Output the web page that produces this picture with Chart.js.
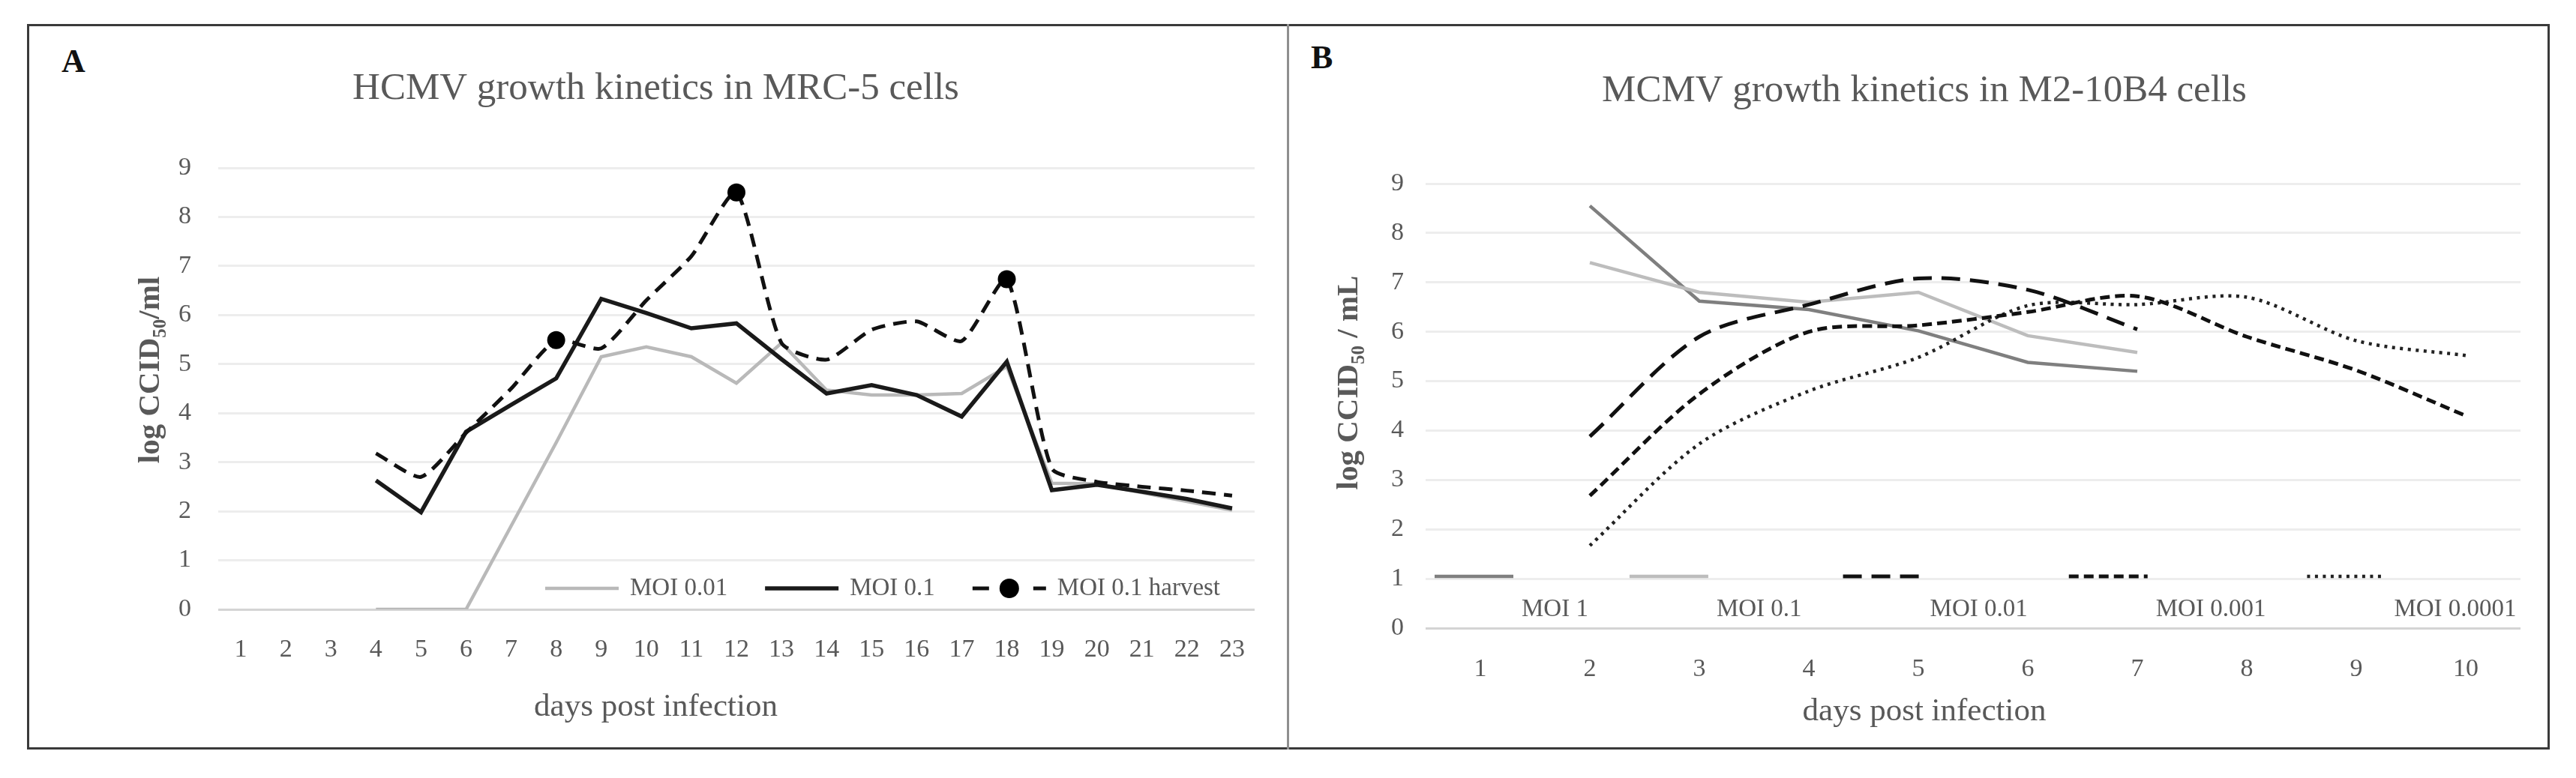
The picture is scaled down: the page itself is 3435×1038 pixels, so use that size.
<!DOCTYPE html>
<html>
<head>
<meta charset="utf-8">
<script src="https://cdn.jsdelivr.net/npm/chart.js@4.4.1/dist/chart.umd.min.js"></script>
<style>
  html, body { margin: 0; padding: 0; background: #fff; }
  body { width: 3435px; height: 1038px; position: relative; overflow: hidden; font-family: "Liberation Serif", serif; }
  .frame { position: absolute; left: 36px; top: 32px; width: 3358px; height: 962px; border: 3px solid #3a3a3a; }
  .divider { position: absolute; left: 1716px; top: 32px; width: 3px; height: 968px; background: #8f8f8f; }
  .panel-letter { position: absolute; font-size: 44px; line-height: 44px; font-weight: bold; color: #111; }
  canvas { position: absolute; top: 36px; }
  #chart-a { left: 76px; }
  #chart-b { left: 1771px; }
</style>
</head>
<body>
<div class="frame"></div>
<div class="divider"></div>
<div class="panel-letter" style="left:82px; top:60px;">A</div>
<div class="panel-letter" style="left:1748px; top:55px;">B</div>
<canvas id="chart-a" width="1642" height="960"></canvas>
<canvas id="chart-b" width="1626" height="960"></canvas>
<script>
// panel A: HCMV in MRC-5, days 1-23
const daysA = ["1", "2", "3", "4", "5", "6", "7", "8", "9", "10", "11", "12",
  "13", "14", "15", "16", "17", "18", "19", "20", "21", "22", "23"];
const moi001A = [null, null, null, 0, 0, 0, 1.7, 3.4, 5.15, 5.35, 5.15, 4.61,
  5.43, 4.47, 4.37, 4.37, 4.4, 4.95, 2.57, 2.56, 2.38, 2.2, 2.02];
const moi01A = [null, null, null, 2.63, 1.98, 3.62, 4.17, 4.71, 6.33, 6.04, 5.73, 5.83,
  5.1, 4.4, 4.57, 4.37, 3.93, 5.05, 2.43, 2.54, 2.4, 2.25, 2.06];
const harvestA = [null, null, null, 3.18, 2.7, 3.6, 4.5, 5.49, 5.32, 6.3, 7.2, 8.5,
  5.43, 5.09, 5.7, 5.87, 5.47, 6.73, 2.87, 2.6, 2.5, 2.42, 2.32];
const harvestDays = ["8", "12", "18"];

// panel B: MCMV in M2-10B4, days 1-10
const daysB = ["1", "2", "3", "4", "5", "6", "7", "8", "9", "10"];
const moi1B = [null, 8.55, 6.62, 6.45, 6.02, 5.38, 5.2, null, null, null];
const moi01B = [null, 7.4, 6.8, 6.6, 6.8, 5.92, 5.58, null, null, null];
const moi001B = [null, 3.88, 5.9, 6.55, 7.08, 6.85, 6.05, null, null, null];
const moi0001B = [null, 2.68, 4.74, 6.0, 6.13, 6.4, 6.72, 5.9, 5.22, 4.3];
const moi00001B = [null, 1.67, 3.73, 4.8, 5.48, 6.53, 6.55, 6.7, 5.82, 5.52];

const yTicks = { min: 0, max: 9, step: 1 };

const TEXT = "#595959";
const FONT = '"Liberation Serif", "Times New Roman", serif';

Chart.defaults.font.family = FONT;
Chart.defaults.color = TEXT;

// rotated y title with a subscript, Chart.js titles can't do that
const yTitle = {
  id: "yTitle",
  afterDraw(chart, args, opts) {
    const { ctx, chartArea } = chart;
    const cy = (chartArea.top + chartArea.bottom) / 2 + opts.dy;
    const big = `bold ${opts.size}px ${FONT}`;
    const small = `bold ${Math.round(opts.size * 0.62)}px ${FONT}`;
    ctx.save();
    ctx.translate(opts.x, cy);
    ctx.rotate(-Math.PI / 2);
    ctx.fillStyle = TEXT;
    ctx.textBaseline = "alphabetic";
    ctx.font = big;
    const w1 = ctx.measureText(opts.text).width;
    const w3 = ctx.measureText(opts.after).width;
    ctx.font = small;
    const w2 = ctx.measureText(opts.sub).width;
    let x = -(w1 + w2 + w3) / 2;
    const base = opts.size * 0.33;
    ctx.font = big;
    ctx.fillText(opts.text, x, base);
    x += w1;
    ctx.font = small;
    ctx.fillText(opts.sub, x, base + opts.size * 0.22);
    x += w2;
    ctx.font = big;
    ctx.fillText(opts.after, x, base);
    ctx.restore();
  },
};

// legend drawn inside the plot, like the Excel original
const inlineLegend = {
  id: "inlineLegend",
  afterDraw(chart, args, opts) {
    const { ctx, chartArea } = chart;
    let x = chartArea.left + opts.startX;
    const lineY = chartArea.bottom - opts.lineOffset;
    const textY = chartArea.bottom - opts.textOffset;
    ctx.save();
    ctx.font = `${opts.fontSize}px ${FONT}`;
    ctx.textBaseline = "middle";
    ctx.textAlign = "left";
    chart.data.datasets.forEach((ds) => {
      ctx.strokeStyle = ds.borderColor;
      ctx.lineWidth = ds.borderWidth;
      ctx.lineCap = "butt";
      ctx.setLineDash(ds.legendDash || ds.borderDash || []);
      ctx.beginPath();
      ctx.moveTo(x, lineY);
      ctx.lineTo(x + opts.lineLength, lineY);
      ctx.stroke();
      if (ds.legendMarker) {
        ctx.setLineDash([]);
        ctx.fillStyle = ds.pointBackgroundColor;
        ctx.beginPath();
        ctx.arc(x + opts.lineLength / 2, lineY, ds.legendMarker, 0, Math.PI * 2);
        ctx.fill();
      }
      const textX = x + opts.lineLength + opts.textGap;
      ctx.fillStyle = TEXT;
      ctx.fillText(ds.label, textX, textY);
      x = textX + ctx.measureText(ds.label).width + opts.itemGap;
    });
    ctx.restore();
  },
};

function makeOptions(p) {
  return {
    responsive: false,
    animation: false,
    devicePixelRatio: 1,
    layout: { padding: { left: 0, right: p.padRight, top: 0, bottom: 0 } },
    scales: {
      x: {
        offset: true,
        grid: { display: false, drawTicks: false },
        border: { display: false },
        ticks: { padding: p.xTickPad, font: { size: 34 }, color: TEXT, maxRotation: 0, autoSkip: false },
        afterFit: (scale) => { scale.height = p.xHeight; },
      },
      y: {
        min: yTicks.min,
        max: yTicks.max,
        ticks: { stepSize: yTicks.step, padding: p.yTickPad, font: { size: 34 }, color: TEXT },
        grid: {
          drawTicks: false,
          lineWidth: 3,
          color: (c) => (c.tick && c.tick.value === 0 ? "#d4d4d4" : "#ededed"),
        },
        border: { display: false },
        afterFit: (scale) => { scale.width = p.yWidth; },
      },
    },
    plugins: {
      legend: { display: false },
      tooltip: { enabled: false },
      title: {
        display: true,
        text: p.title,
        color: TEXT,
        font: { size: 51, weight: "normal" },
        padding: p.titlePad,
      },
      subtitle: {
        display: true,
        position: "bottom",
        text: "days post infection",
        color: TEXT,
        font: { size: 43, weight: "normal" },
        padding: p.subPad,
      },
      yTitle: p.yTitle,
      inlineLegend: p.legend,
    },
  };
}

new Chart(document.getElementById("chart-a"), {
  type: "line",
  data: {
    labels: daysA,
    datasets: [
      {
        label: "MOI 0.01",
        data: moi001A,
        borderColor: "#b9b9b9",
        borderWidth: 4.5,
        pointRadius: 0,
        order: 3,
      },
      {
        label: "MOI 0.1",
        data: moi01A,
        borderColor: "#1a1a1a",
        borderWidth: 5.5,
        pointRadius: 0,
        order: 2,
      },
      {
        label: "MOI 0.1 harvest",
        data: harvestA,
        borderColor: "#111111",
        borderWidth: 5,
        borderDash: [18, 11],
        tension: 0.2,
        pointRadius: daysA.map((d) => (harvestDays.includes(d) ? 12 : 0)),
        pointBackgroundColor: "#000000",
        pointBorderWidth: 0,
        legendDash: [22, 59, 22],
        legendMarker: 13,
        order: 1,
      },
    ],
  },
  options: makeOptions({
    title: "HCMV growth kinetics in MRC-5 cells",
    padRight: 45,
    yWidth: 215,
    yTickPad: 36,
    xTickPad: 33.6,
    xHeight: 100,
    titlePad: { top: 52.4, bottom: 74.4 },
    subPad: { top: 5.2, bottom: 26.2 },
    yTitle: { text: "log CCID", sub: "50", after: "/ml", size: 41, x: 122, dy: -25 },
    legend: { startX: 436, lineOffset: 28, textOffset: 28, lineLength: 98, textGap: 15, itemGap: 50, fontSize: 33 },
  }),
  plugins: [yTitle, inlineLegend],
});

new Chart(document.getElementById("chart-b"), {
  type: "line",
  data: {
    labels: daysB,
    datasets: [
      {
        label: "MOI 1",
        data: moi1B,
        borderColor: "#7f7f7f",
        borderWidth: 4.5,
        pointRadius: 0,
        order: 5,
      },
      {
        label: "MOI 0.1",
        data: moi01B,
        borderColor: "#bdbdbd",
        borderWidth: 4.5,
        pointRadius: 0,
        order: 4,
      },
      {
        label: "MOI 0.01",
        data: moi001B,
        borderColor: "#111111",
        borderWidth: 5,
        borderDash: [25, 13],
        tension: 0.3,
        pointRadius: 0,
        order: 1,
      },
      {
        label: "MOI 0.001",
        data: moi0001B,
        borderColor: "#111111",
        borderWidth: 5,
        borderDash: [13, 7],
        tension: 0.3,
        pointRadius: 0,
        order: 2,
      },
      {
        label: "MOI 0.0001",
        data: moi00001B,
        borderColor: "#222222",
        borderWidth: 4.5,
        borderDash: [4, 6.5],
        tension: 0.3,
        pointRadius: 0,
        order: 3,
      },
    ],
  },
  options: makeOptions({
    title: "MCMV growth kinetics in M2-10B4 cells",
    padRight: 36,
    yWidth: 130,
    yTickPad: 29,
    xTickPad: 34.6,
    xHeight: 80,
    titlePad: { top: 55.4, bottom: 92.4 },
    subPad: { top: 6.2, bottom: 20.2 },
    yTitle: { text: "log CCID", sub: "50", after: " / mL", size: 41, x: 25, dy: -31 },
    legend: { startX: 12, lineOffset: 69, textOffset: 25, lineLength: 105, textGap: 11, itemGap: 55, fontSize: 33 },
  }),
  plugins: [yTitle, inlineLegend],
});
</script>
</body>
</html>
